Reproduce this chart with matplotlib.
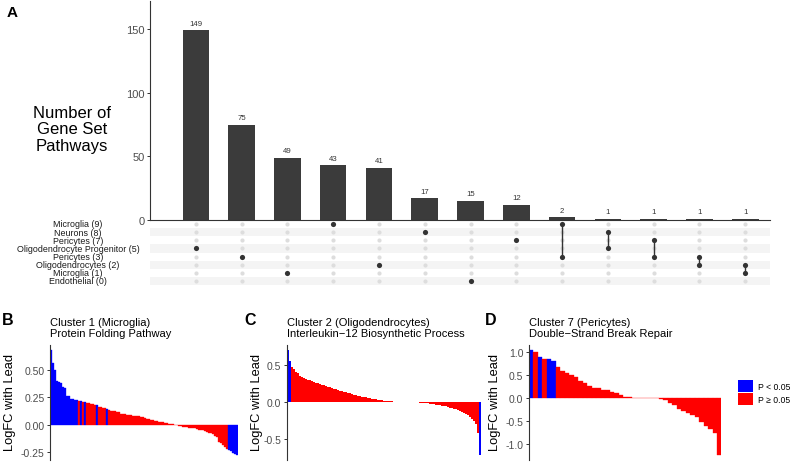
import matplotlib
matplotlib.use("Agg")
import matplotlib.pyplot as plt
from matplotlib.patches import Patch
import numpy as np

plt.rcParams['font.family'] = ['Liberation Sans', 'DejaVu Sans']

# ---------------- Panel A data (UpSet plot) ----------------
set_names = ["Microglia (9)", "Neurons (8)", "Pericytes (7)",
             "Oligodendrocyte Progenitor (5)", "Pericytes (3)",
             "Oligodendrocytes (2)", "Microglia (1)", "Endothelial (0)"]
intersection_sizes = [149, 75, 49, 43, 41, 17, 15, 12, 2, 1, 1, 1, 1]
# members of each intersection, as indices into set_names
intersection_members = [[3], [4], [6], [0], [5], [1], [7], [2],
                        [0, 4], [1, 3], [2, 4], [4, 5], [5, 6]]

# ---------------- Panel B data ----------------
b_title = "Cluster 1 (Microglia)\nProtein Folding Pathway"
b_logfc = [0.68, 0.56, 0.50, 0.40, 0.39, 0.38, 0.34, 0.33, 0.265, 0.26,
           0.235, 0.23, 0.228, 0.225, 0.218, 0.215, 0.21, 0.205, 0.20, 0.195,
           0.19, 0.185, 0.18, 0.175, 0.165, 0.16, 0.155, 0.15, 0.14, 0.13,
           0.128, 0.125, 0.12, 0.118, 0.115, 0.10, 0.098, 0.095, 0.092, 0.088,
           0.085, 0.08, 0.078, 0.076, 0.074, 0.07, 0.065, 0.058, 0.052, 0.047,
           0.043, 0.04, 0.036, 0.032, 0.028, 0.024, 0.02, 0.015, 0.011, 0.007,
           0.003, 0.001, -0.004, -0.008, -0.012, -0.016, -0.02, -0.023, -0.026, -0.029,
           -0.031, -0.033, -0.035, -0.04, -0.045, -0.05, -0.053, -0.056, -0.065, -0.072,
           -0.078, -0.085, -0.10, -0.116, -0.16, -0.17, -0.19, -0.205, -0.22, -0.23,
           -0.245, -0.255, -0.265, -0.275]
b_sig = [1]*14 + [0, 1, 0, 1, 0, 0, 0, 0, 0, 1, 0, 0, 0, 0, 1] + [0]*60 + [1]*5

# ---------------- Panel C data ----------------
c_title = "Cluster 2 (Oligodendrocytes)\nInterleukin\u221212 Biosynthetic Process"
c_logfc = [0.70, 0.55, 0.47, 0.44, 0.41, 0.385, 0.355, 0.335, 0.322, 0.31,
           0.30, 0.29, 0.28, 0.27, 0.26, 0.25, 0.24, 0.232, 0.224, 0.216,
           0.208, 0.20, 0.19, 0.181, 0.172, 0.163, 0.155, 0.147, 0.139, 0.131,
           0.123, 0.115, 0.108, 0.101, 0.094, 0.087, 0.08, 0.074, 0.068, 0.062,
           0.056, 0.05, 0.045, 0.04, 0.035, 0.03, 0.025, 0.021, 0.018, 0.015,
           0.012, 0.01, 0.008, 0.006, 0.004, 0.003, 0.002, 0.001, 0.0005, 0.0,
           0.0, -0.0005, -0.001, -0.002, -0.004, -0.006, -0.008, -0.01, -0.013, -0.016,
           -0.019, -0.022, -0.026, -0.03, -0.034, -0.038, -0.043, -0.048, -0.054, -0.06,
           -0.067, -0.075, -0.083, -0.092, -0.10, -0.11, -0.12, -0.135, -0.15, -0.16,
           -0.18, -0.20, -0.225, -0.26, -0.30, -0.42, -0.71]
c_sig = [1, 1] + [0]*94 + [1]

# ---------------- Panel D data ----------------
d_title = "Cluster 7 (Pericytes)\nDouble\u2212Strand Break Repair"
d_logfc = [1.036, 0.99, 0.877, 0.848, 0.848, 0.79, 0.674, 0.58, 0.536, 0.50,
           0.45, 0.355, 0.32, 0.26, 0.22, 0.22, 0.174, 0.167, 0.13, 0.10,
           0.058, 0.022, 0.007, 0.002, 0.001, 0.0, -0.001, -0.003, -0.01, -0.03,
           -0.06, -0.11, -0.16, -0.24, -0.28, -0.33, -0.38, -0.42, -0.52, -0.62,
           -0.69, -0.77, -1.24]
d_sig = [1, 0, 1, 0, 1, 1] + [0]*37

legend_labels = ["P < 0.05", "P \u2265 0.05"]

# ---------------- layout helpers ----------------
W, H = 795, 464
fig = plt.figure(figsize=(W/100, H/100), dpi=100)


def rect(l, t, r, b):
    return [l/W, 1 - b/H, (r - l)/W, (b - t)/H]


def ftext(x, y, s, **kw):
    return fig.text(x/W, 1 - y/H, s, **kw)


BLUE, RED = "#0000ff", "#ff0000"
DARK = "#3b3b3b"
TICKC = "#4d4d4d"

# ---------------- Panel A ----------------
axb = fig.add_axes(rect(150, 2, 770, 221))
xs = np.arange(1, len(intersection_sizes) + 1)
axb.bar(xs, intersection_sizes, width=0.58, color=DARK, linewidth=0)
for x, v in zip(xs, intersection_sizes):
    axb.annotate(str(v), (x, v), xytext=(0, 2.6), textcoords="offset points",
                 ha="center", va="bottom", fontsize=5.6, color="#333333")
axb.set_xlim(0, 13.54)
axb.set_ylim(0, 172)
axb.set_yticks([0, 50, 100, 150])
axb.set_xticks([])
for s in ["top", "right"]:
    axb.spines[s].set_visible(False)
for s in ["left", "bottom"]:
    axb.spines[s].set_color("#333333")
    axb.spines[s].set_linewidth(0.8)
axb.tick_params(axis="y", labelsize=8, labelcolor=TICKC, color="#333333",
                length=2, width=0.7, pad=2)

ftext(72, 130, "Number of\nGene Set\nPathways", ha="center", va="center",
      fontsize=12, linespacing=1.15)
ftext(12, 13, "A", ha="center", va="center", fontsize=11, fontweight="bold")

axm = fig.add_axes(rect(150, 221, 770, 286.1))
nrows = len(set_names)
axm.set_xlim(0, 13.54)
axm.set_ylim(nrows - 0.5, -0.5)
for r in range(nrows):
    if r % 2 == 1:
        axm.axhspan(r - 0.5, r + 0.5, color="#f4f4f4", lw=0, zorder=0)
for i, mem in enumerate(intersection_members):
    x = i + 1
    others = [r for r in range(nrows) if r not in mem]
    axm.scatter([x]*len(others), others, s=9, color="#dddddd", lw=0, zorder=2)
    if len(mem) > 1:
        axm.plot([x, x], [min(mem), max(mem)], color="#333333", lw=1.0, zorder=3)
    axm.scatter([x]*len(mem), mem, s=14, color="#333333", lw=0, zorder=4)
axm.axis("off")
for r, name in enumerate(set_names):
    ftext(78, 225 + r*8.14, name, ha="center", va="center", fontsize=6.4,
          color="#1a1a1a")

# ---------------- Panels B, C, D ----------------
def waterfall(rc, vals, sig, width, ticks, fmt, title, letter, lx, ylx):
    ax = fig.add_axes(rect(*rc))
    x = np.arange(len(vals))
    cols = [BLUE if s else RED for s in sig]
    ax.bar(x, vals, width=width, color=cols, edgecolor=cols,
           linewidth=0.25 if width >= 1 else 0)
    ax.set_xlim(-0.5, len(vals) - 0.5)
    lo, hi = min(vals), max(vals)
    rg = hi - lo
    ax.set_ylim(lo - 0.05*rg, hi + 0.05*rg)
    ax.set_yticks(ticks)
    ax.set_yticklabels([fmt % t for t in ticks])
    ax.set_xticks([])
    for s in ["top", "right", "bottom"]:
        ax.spines[s].set_visible(False)
    ax.spines["left"].set_color("#333333")
    ax.spines["left"].set_linewidth(0.8)
    ax.tick_params(axis="y", labelsize=7.5, labelcolor=TICKC, color="#333333",
                   length=2, width=0.7, pad=2)
    ftext(rc[0], 328.5, title, ha="left", va="center", fontsize=8,
          linespacing=1.05)
    ftext(lx, 321, letter, ha="center", va="center", fontsize=11.5,
          fontweight="bold")
    ftext(ylx, 403, "LogFC with Lead", ha="center", va="center",
          rotation=90, fontsize=9.3)
    return ax


waterfall((50, 345.8, 237.5, 461), b_logfc, b_sig, 1.0,
          [-0.25, 0.0, 0.25, 0.5], "%.2f", b_title, "B", 8, 10)
waterfall((286.7, 345.8, 481, 461), c_logfc, c_sig, 0.8,
          [-0.5, 0.0, 0.5], "%.1f", c_title, "C", 250.5, 257)
axd = waterfall((529, 345.8, 721.5, 461), d_logfc, d_sig, 1.0,
                [-1.0, -0.5, 0.0, 0.5, 1.0], "%.1f", d_title, "D", 491, 495)

handles = [Patch(facecolor=BLUE, edgecolor="none"),
           Patch(facecolor=RED, edgecolor="none")]
fig.legend(handles, legend_labels, loc="upper left",
           bbox_to_anchor=(738/W, 1 - 381/H), frameon=False, fontsize=6.2,
           handlelength=1.76, handleheight=1.76, handletextpad=0.6,
           labelspacing=0.16, borderpad=0, borderaxespad=0)

fig.savefig("out.png", dpi=100)
